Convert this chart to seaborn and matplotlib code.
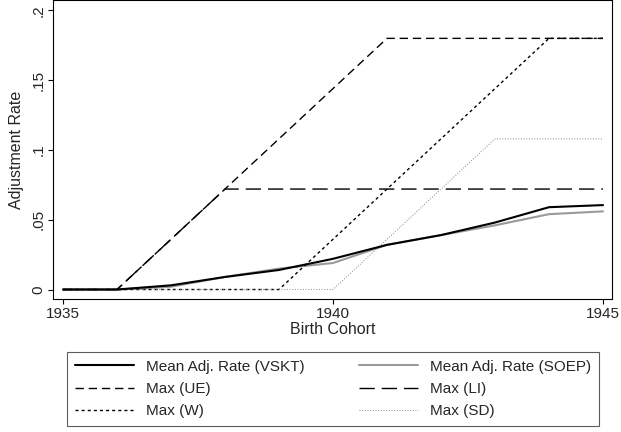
import matplotlib
matplotlib.use("Agg")
import matplotlib.pyplot as plt
import seaborn as sns

# birth cohorts and adjustment rates
cohort = [1935, 1936, 1937, 1938, 1939, 1940, 1941, 1942, 1943, 1944, 1945]
vskt = [0, 0, 0.003, 0.009, 0.014, 0.022, 0.032, 0.039, 0.048, 0.059, 0.0605]
soep = [0, 0, 0.002, 0.009, 0.015, 0.019, 0.032, 0.039, 0.046, 0.054, 0.056]
max_ue = [0, 0, 0.036, 0.072, 0.108, 0.144, 0.18, 0.18, 0.18, 0.18, 0.18]
max_li = [0, 0, 0.036, 0.072, 0.072, 0.072, 0.072, 0.072, 0.072, 0.072, 0.072]
max_w = [0, 0, 0, 0, 0, 0.036, 0.072, 0.108, 0.144, 0.18, 0.18]
max_sd = [0, 0, 0, 0, 0, 0, 0.036, 0.072, 0.108, 0.108, 0.108]

y_ticks = [0, 0.05, 0.1, 0.15, 0.2]
y_ticklabels = ["0", ".05", ".1", ".15", ".2"]
x_ticks = [1935, 1940, 1945]

sns.set_style("ticks")
plt.rcParams['font.family'] = ['Liberation Sans', 'DejaVu Sans']

fig = plt.figure(figsize=(6.21, 4.32), dpi=100)
ax = fig.add_axes([53 / 621, 133 / 432, 559 / 621, 299 / 432])

series = [
    ("Mean Adj. Rate (VSKT)", vskt, "black", "-", 1.5),
    ("Mean Adj. Rate (SOEP)", soep, "#9a9a9a", "-", 1.5),
    ("Max (UE)", max_ue, "black", (0, (6, 3.5)), 1.0),
    ("Max (LI)", max_li, "black", (0, (11, 5)), 1.0),
    ("Max (W)", max_w, "black", (0, (2.2, 2.2)), 1.0),
    ("Max (SD)", max_sd, "#888888", (0, (0.8, 1.6)), 0.8),
]
for label, vals, col, ls, lw in series:
    sns.lineplot(x=cohort, y=vals, color=col, linestyle=ls, linewidth=lw,
                 label=label, ax=ax, zorder=3 if label.endswith("(VSKT)") else 2)

ax.set_xlim(1934.815, 1945.167)
ax.set_ylim(-0.0068, 0.2075)
ax.set_xticks(x_ticks)
ax.set_xticklabels([str(x) for x in x_ticks], fontsize=11)
ax.set_yticks(y_ticks)
ax.set_yticklabels(y_ticklabels, fontsize=11, rotation=90, va="center")
ax.tick_params(direction="out", length=3.6, width=0.8, color="black", pad=2)
ax.set_xlabel("Birth Cohort", fontsize=11.5, labelpad=1)
ax.set_ylabel("Adjustment Rate", fontsize=11.5, labelpad=5)
for sp in ax.spines.values():
    sp.set_color("black")
    sp.set_linewidth(0.8)

# legend filled row by row like the original (matplotlib fills by column)
handles, labels = ax.get_legend_handles_labels()
order = [0, 2, 4, 1, 3, 5]
leg = ax.legend([handles[i] for i in order], [labels[i] for i in order],
                loc="upper left", bbox_to_anchor=(0.025, -0.177, 0.952, 0),
                mode="expand", ncol=2, fontsize=11, frameon=True,
                fancybox=False, handlelength=3.9, handletextpad=0.8,
                columnspacing=2.4, labelspacing=0.55, borderpad=0.5,
                borderaxespad=0)
leg.get_frame().set_edgecolor("#333333")
leg.get_frame().set_linewidth(0.8)

fig.savefig("out.png", dpi=100)
